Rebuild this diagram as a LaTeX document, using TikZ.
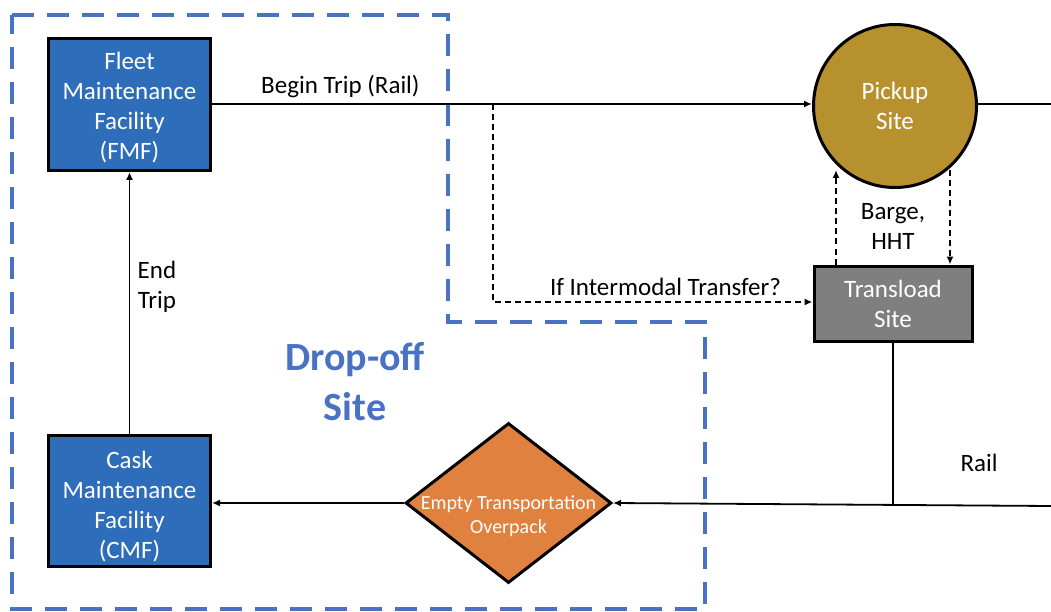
\documentclass[tikz,border=0pt]{standalone}
\usepackage{fontspec}
\setmainfont{Carlito}
\usetikzlibrary{arrows.meta,shapes.geometric}
\definecolor{boxblue}{HTML}{2E6DBA}
\definecolor{dashblue}{HTML}{4A72C4}
\definecolor{gold}{HTML}{B8912F}
\definecolor{dgray}{HTML}{7F7F7F}
\definecolor{orng}{HTML}{E0813F}
\tikzset{
  every node/.style={font=\fontsize{25}{30}\selectfont, align=center},
  facility/.style={draw=black, line width=3pt, fill=boxblue, text=white, minimum width=162pt, minimum height=132pt, inner sep=0pt},
  conn/.style={line width=1.8pt, -{Latex[length=8pt,width=7pt]}},
  plain/.style={line width=1.8pt},
  dconn/.style={line width=1.8pt, dash pattern=on 6pt off 4pt, -{Latex[length=8pt,width=7pt]}},
  lbl/.style={text=black},
}
\begin{document}
\begin{tikzpicture}[x=1pt,y=-1pt]
\useasboundingbox (0,0) rectangle (1051,612);
% drop-off outline
\draw[dashblue, line width=3.5pt, dash pattern=on 22pt off 13pt]
  (12,15) -- (448,15) -- (448,322) -- (705,322) -- (705,609) -- (12,609) -- cycle;
\node[text=dashblue, font=\fontsize{40}{50}\selectfont\bfseries] (drop) at (355,382) {Drop-off\\Site};

\node[facility] (fmf) at (129.5,104.5) {\rule{0pt}{24pt}Fleet\\Maintenance\\Facility\\(FMF)};
\node[facility, minimum height=131pt] (cmf) at (129.5,500.5) {\rule{0pt}{30pt}Cask\\Maintenance\\Facility\\(CMF)};
\node[circle, draw=black, line width=3pt, fill=gold, text=white, minimum size=163pt, inner sep=0pt] (pick) at (895,106) {Pickup\\Site};
\node[draw=black, line width=3pt, fill=dgray, text=white, minimum width=158pt, minimum height=75pt, inner sep=0pt] (trans) at (893,303.5) {Transload\\Site};
\node[diamond, draw=black, line width=3pt, fill=orng, minimum width=206pt, minimum height=160pt, inner sep=0pt,
  label={[text=white, font=\fontsize{20}{24}\selectfont, align=center, yshift=-13pt]center:Empty Transportation\\Overpack}] (etop) at (508.5,503) {};

\coordinate (rightTop) at (1051,104);
\coordinate (rightBot) at (1051,506);
\coordinate (split) at (493,104);
\coordinate (bend) at (493,302);
\coordinate (railJ) at (893,505);

\draw[conn] (fmf.east |- 0,104) -- node[lbl, above=2pt, pos=0.214] (bt) {Begin Trip (Rail)} (pick.west |- 0,104);
\draw[plain] (pick.east |- 0,104) -- (rightTop);
\draw[dconn] (split) -- (bend) -- node[lbl, above=2pt, pos=0.54] (imt) {If Intermodal Transfer?} (trans.west |- bend);
\draw[dconn] (trans.north -| 836,0) -- (836,170);
\draw[dconn] (950,170) -- (trans.north -| 950,0);
\node[lbl] (barge) at (893,226) {Barge,\\HHT};
\draw[plain] (trans.south) -- (railJ);
\draw[conn] (rightBot) -- (etop.east);
\node[lbl] (rail) at (979,463) {Rail};
\draw[conn] (etop.west) -- (cmf.east |- etop.west);
\draw[conn] (cmf.north) -- node[lbl, right=4pt, pos=0.56] (et) {End\\Trip} (fmf.south);
\end{tikzpicture}
\end{document}
